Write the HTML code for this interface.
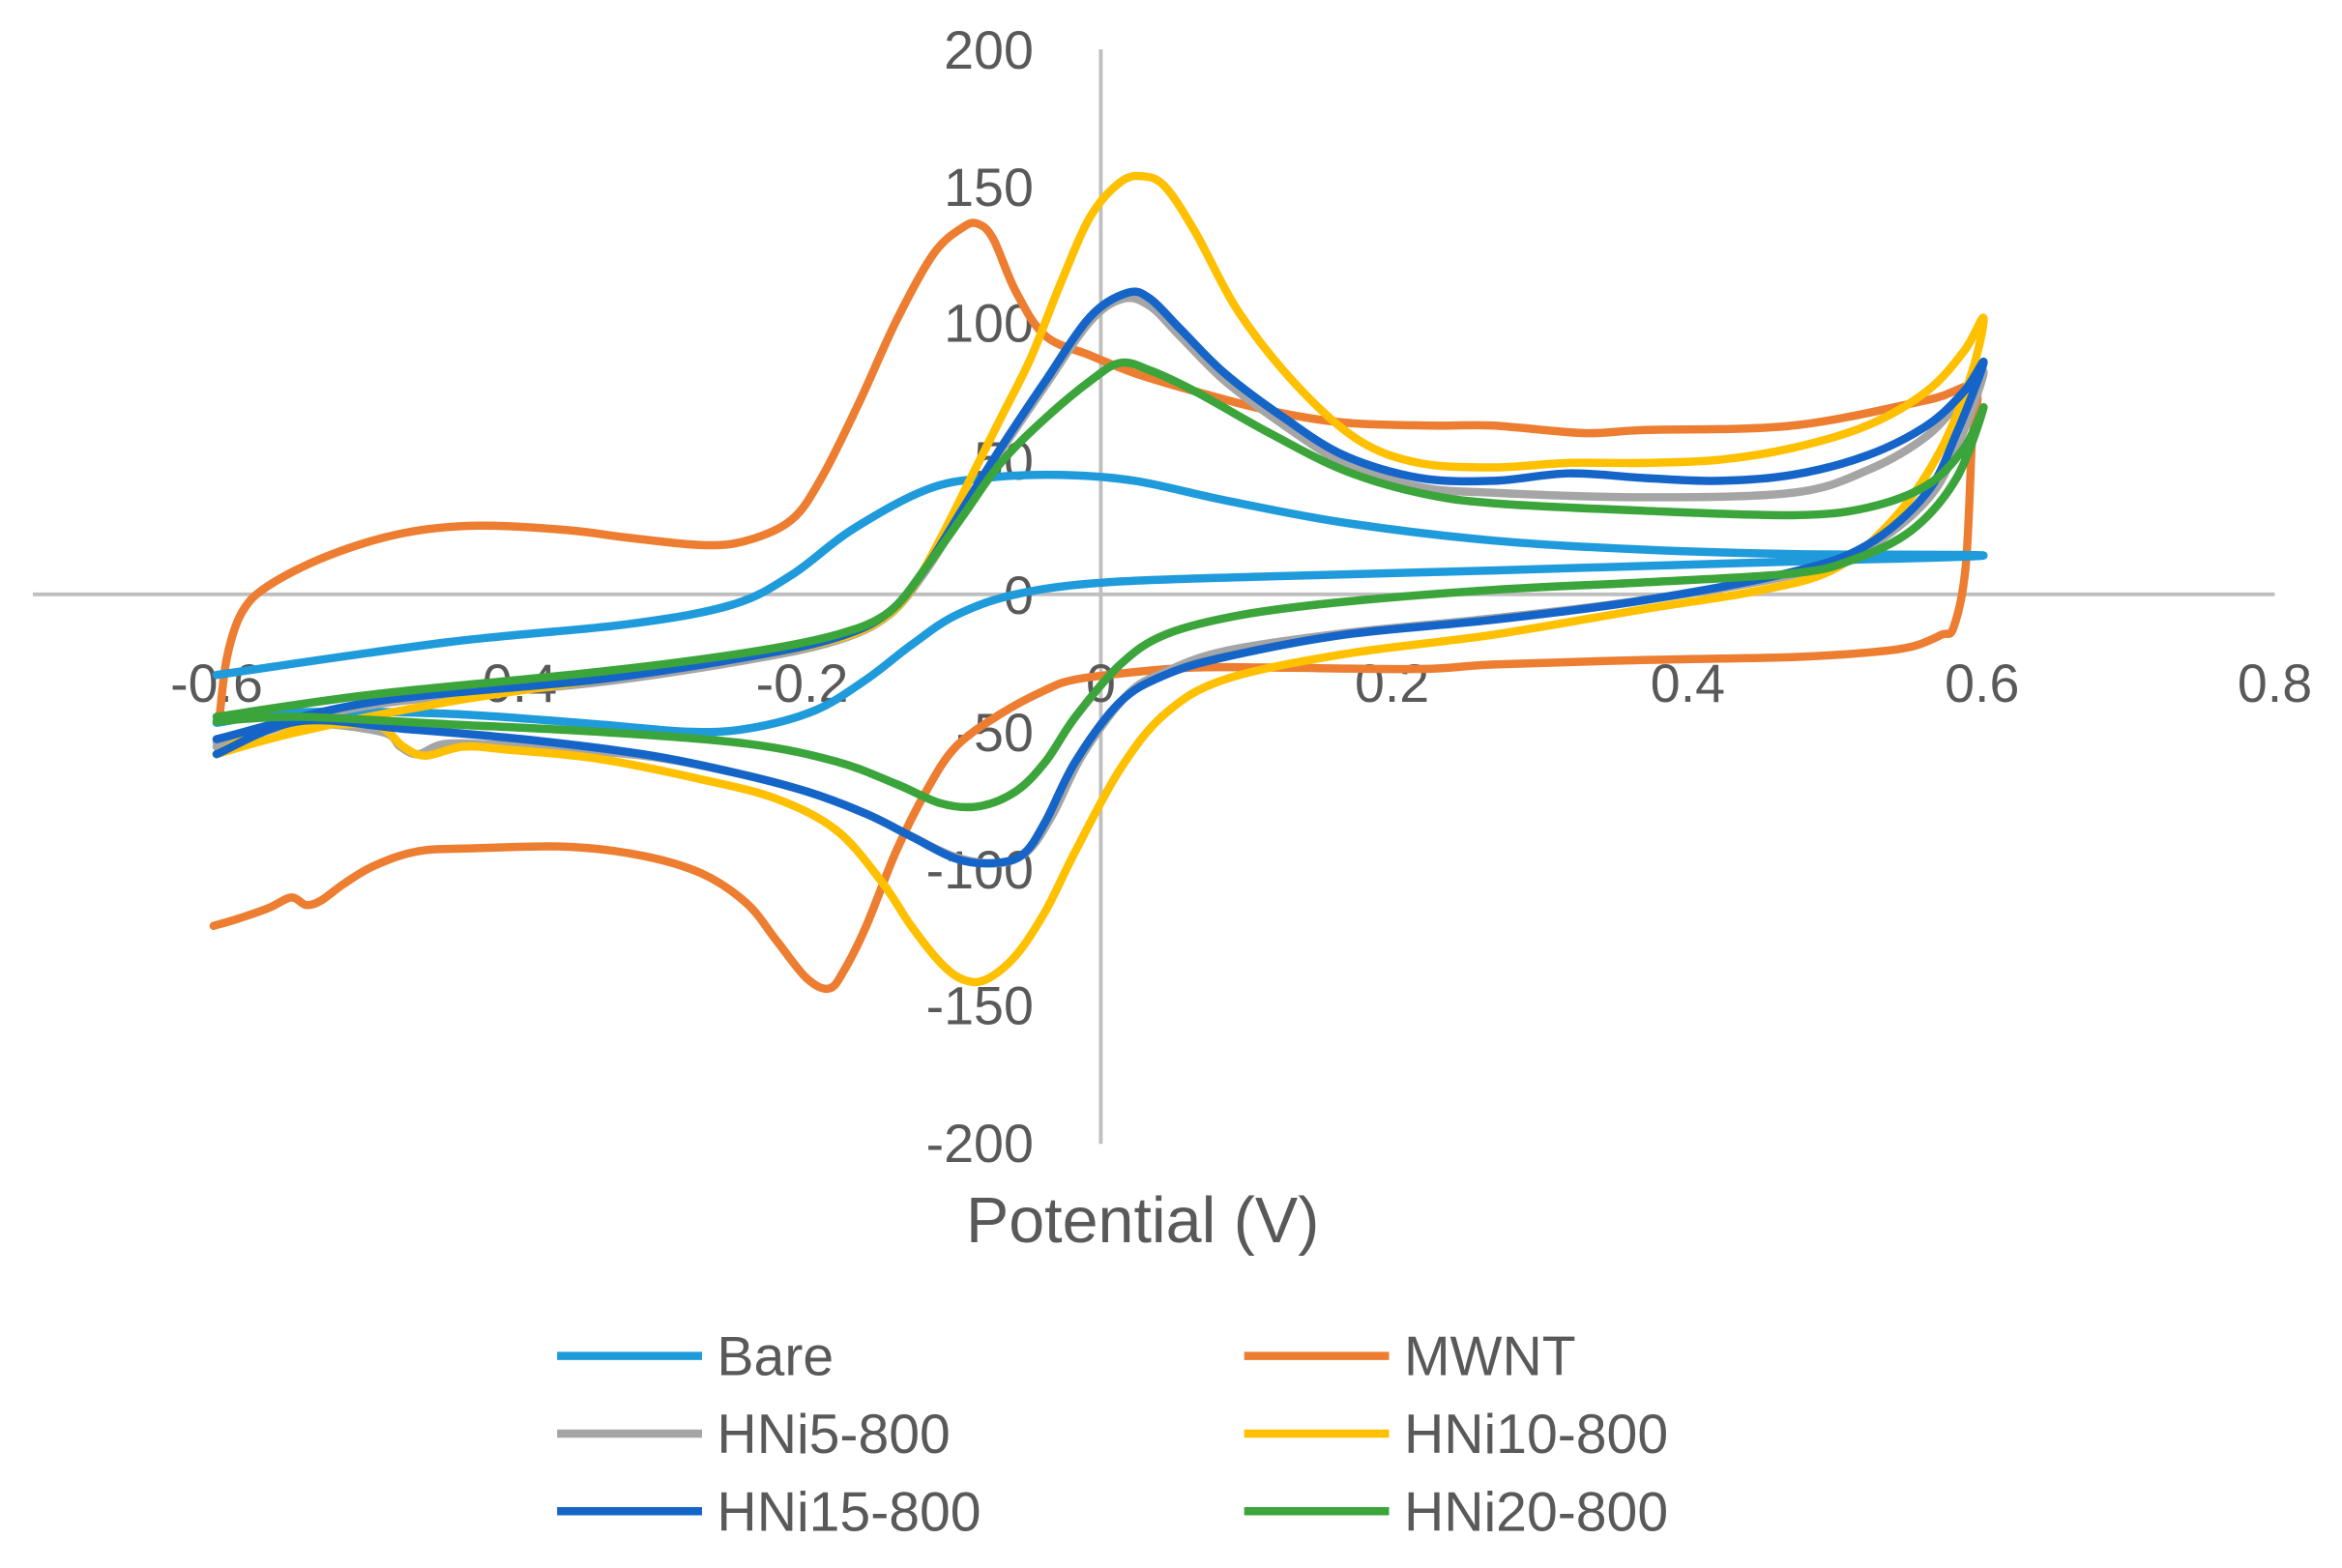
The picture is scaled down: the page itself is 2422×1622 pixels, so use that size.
<!DOCTYPE html>
<html><head><meta charset="utf-8"><style>html,body{margin:0;padding:0;background:#fff}svg{display:block}</style></head>
<body>
<svg id="s" width="2422" height="1622" viewBox="0 0 1568 1050" preserveAspectRatio="none" xmlns="http://www.w3.org/2000/svg">
<rect width="1568" height="1050" fill="#fff"/>
<g stroke="#bfbfbf" stroke-width="2.5">
<line x1="22" y1="398" x2="1523" y2="398"/>
<line x1="737" y1="33" x2="737" y2="766"/>
</g>
<g font-family="Liberation Sans, sans-serif" font-size="36" fill="#595959" text-anchor="end">
<text x="692" y="46">200</text>
<text x="692" y="138">150</text>
<text x="692" y="229">100</text>
<text x="692" y="321">50</text>
<text x="692" y="411">0</text>
<text x="692" y="503">-50</text>
<text x="692" y="595">-100</text>
<text x="692" y="686">-150</text>
<text x="692" y="778">-200</text>
</g>
<g font-family="Liberation Sans, sans-serif" font-size="36" fill="#595959" text-anchor="middle">
<text x="145" y="470">-0.6</text>
<text x="342" y="470">-0.4</text>
<text x="537" y="470">-0.2</text>
<text x="737" y="470">0</text>
<text x="932" y="470">0.2</text>
<text x="1130" y="470">0.4</text>
<text x="1327" y="470">0.6</text>
<text x="1523" y="470">0.8</text>
<text x="765" y="832" font-size="43">Potential (V)</text>
</g>
<g id="curves" fill="none" stroke-width="5.5" stroke-linejoin="round" stroke-linecap="round">
<polyline stroke="#ED7D31" points="147,480 152,440 162,410 180,392 220,372 270,357 320,352 380,355 420,360 470,365 500,362 530,348 550,320 575,270 600,215 625,170 645,152 655,150 665,160 680,195 700,225 730,238 760,250 800,262 850,275 900,283 960,285 1000,285 1060,290 1100,288 1200,285 1290,268 1322,260 1320,300 1316,380 1308,420 1300,425 1280,433 1250,437 1200,440 1100,442 1000,445 950,448 850,447 800,447 760,450 720,455 700,462 670,478 640,500 620,530 600,570 580,620 565,650 555,662 540,655 520,630 500,605 470,585 430,573 380,567 320,568 280,570 250,580 230,592 215,603 205,606 195,601 180,608 160,615 143,620"/>
<polyline stroke="#1F9BDB" points="145,452 300,430 420,418 490,405 530,385 570,355 620,328 660,320 710,318 760,322 820,335 900,350 1000,362 1100,368 1200,371 1328,372 1200,376 1000,382 850,386 740,390 680,398 640,412 610,432 580,455 545,476 500,488 460,490 400,485 300,478 200,477 145,484"/>
<polyline stroke="#A5A5A5" points="145,497 250,472 400,457 500,442 560,429 595,412 620,382 645,342 670,302 700,258 730,215 752,200 770,205 790,225 820,255 860,285 900,310 950,326 1000,330 1100,333 1200,330 1250,315 1290,292 1315,265 1328,250 1310,300 1290,335 1250,367 1200,385 1100,402 1000,414 900,424 820,436 780,450 755,465 725,505 705,545 688,570 668,578 640,574 610,560 580,545 540,530 490,517 430,506 350,500 300,498 280,505 268,500 255,490 200,485 145,500"/>
<polyline stroke="#FFC000" points="145,505 200,490 300,470 400,455 500,440 560,428 590,415 610,395 630,360 650,320 670,280 690,240 710,190 730,145 750,122 765,118 780,125 800,155 830,210 870,260 910,295 950,310 1000,313 1050,310 1100,310 1150,308 1200,300 1250,285 1290,262 1315,235 1328,213 1320,250 1300,300 1270,345 1230,380 1180,395 1100,408 1000,425 900,438 820,455 780,478 750,515 720,570 700,610 680,640 660,656 645,656 630,645 610,620 590,590 560,556 520,535 470,522 400,508 340,502 310,500 285,506 270,500 255,487 230,485 180,488 145,505"/>
<polyline stroke="#1565C8" points="145,495 250,470 400,455 500,440 560,427 595,410 620,380 645,340 670,300 700,255 730,212 755,196 770,200 790,220 820,250 860,280 900,305 950,320 1000,322 1050,317 1100,320 1150,322 1200,318 1250,305 1290,285 1315,262 1328,243 1310,290 1290,330 1250,365 1200,383 1100,402 1000,415 900,425 820,440 780,452 750,470 720,510 700,550 685,572 665,578 640,575 610,560 580,545 540,530 490,517 430,505 350,495 270,488 200,483 145,505"/>
<polyline stroke="#3BA53B" points="145,480 250,465 400,450 500,437 560,425 595,410 620,380 645,345 670,310 700,280 730,255 750,243 770,248 800,262 850,290 900,315 950,330 1000,337 1100,342 1200,345 1250,340 1290,325 1315,300 1328,273 1310,320 1280,355 1240,375 1200,384 1100,390 1000,395 900,403 830,412 780,425 750,445 720,480 700,510 680,530 655,540 630,538 600,525 560,510 500,498 400,490 300,485 200,480 145,483"/>
</g>
<g stroke-width="5.5">
<line x1="373" y1="908" x2="470" y2="908" stroke="#1F9BDB"/>
<line x1="833" y1="908" x2="930" y2="908" stroke="#ED7D31"/>
<line x1="373" y1="960" x2="470" y2="960" stroke="#A5A5A5"/>
<line x1="833" y1="960" x2="930" y2="960" stroke="#FFC000"/>
<line x1="373" y1="1012" x2="470" y2="1012" stroke="#1565C8"/>
<line x1="833" y1="1012" x2="930" y2="1012" stroke="#3BA53B"/>
</g>
<g font-family="Liberation Sans, sans-serif" font-size="37" fill="#595959">
<text x="480" y="921">Bare</text>
<text x="940" y="921">MWNT</text>
<text x="480" y="973">HNi5-800</text>
<text x="940" y="973">HNi10-800</text>
<text x="480" y="1025">HNi15-800</text>
<text x="940" y="1025">HNi20-800</text>
</g>
</svg>
<script>
(function(){
var ns="http://www.w3.org/2000/svg";
var pls=document.querySelectorAll("#curves polyline");
for(var k=0;k<pls.length;k++){
var pl=pls[k];
var nums=pl.getAttribute("points").trim().split(/[\s,]+/).map(Number);
var p=[];for(var i=0;i<nums.length;i+=2)p.push([nums[i],nums[i+1]]);
var d="M"+p[0][0]+","+p[0][1];
for(var i=0;i<p.length-1;i++){
var p0=p[i-1]||p[i],p1=p[i],p2=p[i+1],p3=p[i+2]||p2;
var c1=[p1[0]+(p2[0]-p0[0])/6,p1[1]+(p2[1]-p0[1])/6];
var c2=[p2[0]-(p3[0]-p1[0])/6,p2[1]-(p3[1]-p1[1])/6];
d+=" C"+c1[0]+","+c1[1]+" "+c2[0]+","+c2[1]+" "+p2[0]+","+p2[1];
}
var path=document.createElementNS(ns,"path");
path.setAttribute("d",d);
path.setAttribute("stroke",pl.getAttribute("stroke"));
pl.parentNode.replaceChild(path,pl);
}
})();
</script>
</body></html>
